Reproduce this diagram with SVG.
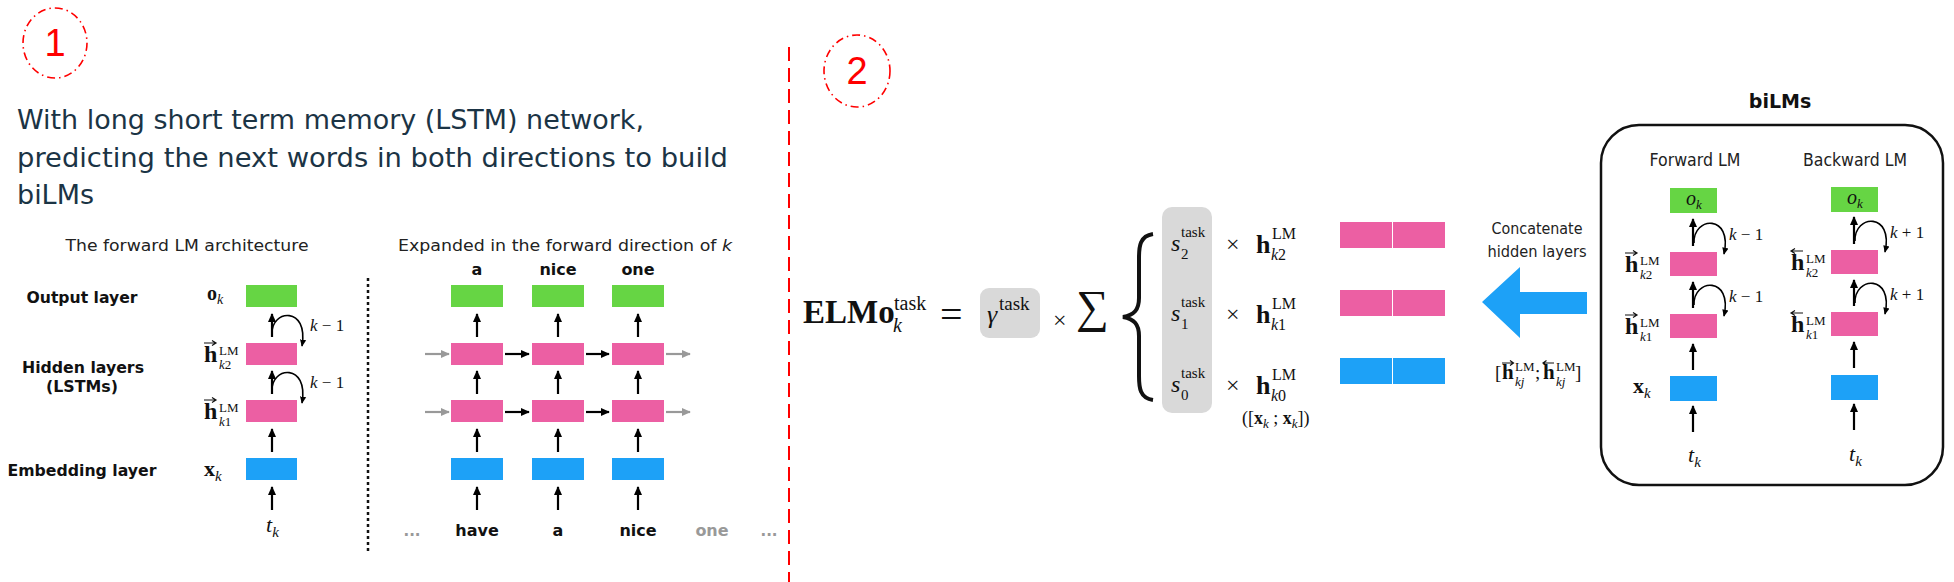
<svg xmlns="http://www.w3.org/2000/svg" width="1954" height="582" viewBox="0 0 1954 582">
<defs>
<marker id="ah" viewBox="0 0 10 10" refX="9" refY="5" markerWidth="9" markerHeight="9" markerUnits="userSpaceOnUse" orient="auto"><path d="M0,0.5 L10,5 L0,9.5 z" fill="#000"/></marker>
<marker id="ahg" viewBox="0 0 10 10" refX="9" refY="5" markerWidth="9" markerHeight="9" markerUnits="userSpaceOnUse" orient="auto"><path d="M0,0.5 L10,5 L0,9.5 z" fill="#999"/></marker>
<marker id="ahc" viewBox="0 0 10 10" refX="9" refY="5" markerWidth="7" markerHeight="7" markerUnits="userSpaceOnUse" orient="auto"><path d="M0,0.5 L10,5 L0,9.5 z" fill="#000"/></marker>
</defs>
<style>
.p{font-family:"DejaVu Sans",Verdana,sans-serif;fill:#1b3445}
.s{font-family:"DejaVu Sans",Verdana,sans-serif;fill:#222}
.b{font-family:"DejaVu Sans",Verdana,sans-serif;font-weight:bold;fill:#111}
.m{font-family:"Liberation Serif","Times New Roman",serif;fill:#111}
.i{font-style:italic}
.bd{font-weight:bold}
.g{fill:#66d544}.k{fill:#ec5fa3}.u{fill:#1da1f7}
.gb{fill:#d9d9d9}
.ar{stroke:#000;stroke-width:2.2;fill:none;marker-end:url(#ah)}
.arg{stroke:#999;stroke-width:2.2;fill:none;marker-end:url(#ahg)}
.cv{stroke:#000;stroke-width:1.6;fill:none;marker-end:url(#ahc)}
.va{stroke:#111;stroke-width:1.2;fill:none}
.red{stroke:#f00;fill:none}
</style>
<rect width="1954" height="582" fill="#fff"/>

<g id="marker1">
<ellipse class="red" cx="55" cy="43" rx="32" ry="35" stroke-width="1.6" stroke-dasharray="8 4 1.5 4"/>
<text x="55" y="56" font-family="Liberation Sans,Arial,sans-serif" font-size="38" fill="#f00" text-anchor="middle">1</text>
</g>
<g id="marker2">
<ellipse class="red" cx="857" cy="71" rx="33" ry="36" stroke-width="1.6" stroke-dasharray="8 4 1.5 4"/>
<text x="857" y="84" font-family="Liberation Sans,Arial,sans-serif" font-size="38" fill="#f00" text-anchor="middle">2</text>
</g>
<line id="divider" class="red" x1="789" y1="47" x2="789" y2="582" stroke-width="2" stroke-dasharray="14 7"/>

<g id="intro">
<text class="p" x="17" y="129" font-size="26" textLength="627" lengthAdjust="spacingAndGlyphs">With long short term memory (LSTM) network,</text>
<text class="p" x="17" y="167" font-size="26" textLength="711" lengthAdjust="spacingAndGlyphs">predicting the next words in both directions to build</text>
<text class="p" x="17" y="204" font-size="26" textLength="77" lengthAdjust="spacingAndGlyphs">biLMs</text>
</g>

<g id="fwd-title"><text class="s" x="187" y="251" font-size="16" text-anchor="middle" textLength="243" lengthAdjust="spacingAndGlyphs">The forward LM architecture</text></g>
<g id="lbl-output"><text class="b" x="82" y="303" font-size="15" text-anchor="middle" textLength="111" lengthAdjust="spacingAndGlyphs">Output layer</text></g>
<g id="lbl-hidden"><text class="b" x="83" y="373" font-size="15" text-anchor="middle" textLength="122" lengthAdjust="spacingAndGlyphs">Hidden layers</text>
<text class="b" x="82" y="392" font-size="15" text-anchor="middle" textLength="72" lengthAdjust="spacingAndGlyphs">(LSTMs)</text></g>
<g id="lbl-embed"><text class="b" x="82" y="476" font-size="15" text-anchor="middle" textLength="149" lengthAdjust="spacingAndGlyphs">Embedding layer</text></g>

<g id="f-o"><rect class="g" x="246" y="285" width="51" height="22"/>
<text class="m" x="207" y="300" font-size="20"><tspan class="bd">o</tspan><tspan class="i" font-size="14" dy="4">k</tspan></text></g>
<g id="f-h2"><rect class="k" x="246" y="343" width="51" height="22"/>
<text class="m bd" x="204" y="362" font-size="24">h</text><path class="va" d="M204,343 h12 M212,340.5 l4,2.5 l-4,2.5"/>
<text class="m" x="219" y="355" font-size="13">LM</text><text class="m" x="219" y="369" font-size="13"><tspan class="i">k</tspan>2</text></g>
<g id="f-h1"><rect class="k" x="246" y="400" width="51" height="22"/>
<text class="m bd" x="204" y="419" font-size="24">h</text><path class="va" d="M204,400 h12 M212,397.5 l4,2.5 l-4,2.5"/>
<text class="m" x="219" y="412" font-size="13">LM</text><text class="m" x="219" y="426" font-size="13"><tspan class="i">k</tspan>1</text></g>
<g id="f-x"><rect class="u" x="246" y="458" width="51" height="22"/>
<text class="m" x="204" y="476" font-size="22"><tspan class="bd">x</tspan><tspan class="i" font-size="15" dy="5">k</tspan></text></g>
<g id="f-t"><text class="m i" x="266" y="532" font-size="22">t<tspan font-size="15" dy="5">k</tspan></text></g>
<g id="f-l2"><text class="m" x="310" y="331" font-size="17"><tspan class="i">k</tspan> − 1</text></g>
<g id="f-l1"><text class="m" x="310" y="388" font-size="17"><tspan class="i">k</tspan> − 1</text></g>

<line id="dotted-sep" x1="368" y1="278" x2="368" y2="553" stroke="#111" stroke-width="2.5" stroke-dasharray="3 3"/>

<g id="exp-title"><text class="s" x="398" y="251" font-size="16" textLength="334" lengthAdjust="spacingAndGlyphs">Expanded in the forward direction of <tspan font-style="italic">k</tspan></text></g>
<g id="exp-top">
<text class="b" x="477" y="275" font-size="16" text-anchor="middle">a</text>
<text class="b" x="558" y="275" font-size="16" text-anchor="middle">nice</text>
<text class="b" x="638" y="275" font-size="16" text-anchor="middle">one</text>
</g>
<g id="col1"><rect class="g" x="451" y="285" width="52" height="22"/><rect class="k" x="451" y="343" width="52" height="22"/><rect class="k" x="451" y="400" width="52" height="22"/><rect class="u" x="451" y="458" width="52" height="22"/></g>
<g id="col2"><rect class="g" x="532" y="285" width="52" height="22"/><rect class="k" x="532" y="343" width="52" height="22"/><rect class="k" x="532" y="400" width="52" height="22"/><rect class="u" x="532" y="458" width="52" height="22"/></g>
<g id="col3"><rect class="g" x="612" y="285" width="52" height="22"/><rect class="k" x="612" y="343" width="52" height="22"/><rect class="k" x="612" y="400" width="52" height="22"/><rect class="u" x="612" y="458" width="52" height="22"/></g>
<g id="exp-bottom">
<text class="b" x="412" y="536" font-size="15" text-anchor="middle" style="fill:#999">...</text>
<text class="b" x="477" y="536" font-size="16" text-anchor="middle">have</text>
<text class="b" x="558" y="536" font-size="16" text-anchor="middle">a</text>
<text class="b" x="638" y="536" font-size="16" text-anchor="middle">nice</text>
<text class="b" x="712" y="536" font-size="16" text-anchor="middle" style="fill:#999">one</text>
<text class="b" x="769" y="536" font-size="15" text-anchor="middle" style="fill:#999">...</text>
</g>

<g id="elmo">
<text class="m bd" x="803" y="323" font-size="33">ELMo</text>
<text class="m" x="894" y="310" font-size="20">task</text>
<text class="m i" x="893" y="332" font-size="20">k</text>
<text class="m" x="940" y="328" font-size="40">=</text>
</g>
<g id="gamma">
<rect class="gb" x="980" y="288" width="60" height="50" rx="9"/>
<text class="m i" x="987" y="323" font-size="26">γ</text>
<text class="m" x="999" y="310" font-size="19">task</text>
</g>
<g id="sum">
<text class="m" x="1053" y="328" font-size="24">×</text>
<text class="m" x="1076" y="322" font-size="46">∑</text>
<path d="M1153,234 C1140,236 1139,246 1139,258 L1139,298 C1139,310 1134,315 1123,317 C1134,319 1139,324 1139,336 L1139,376 C1139,388 1140,398 1153,400" fill="none" stroke="#111" stroke-width="4"/>
</g>
<g id="weights">
<rect class="gb" x="1162" y="207" width="50" height="206" rx="10"/>
<text class="m i" x="1171" y="251" font-size="24">s</text><text class="m" x="1181" y="237" font-size="15">task</text><text class="m" x="1181" y="259" font-size="15">2</text>
<text class="m i" x="1171" y="321" font-size="24">s</text><text class="m" x="1181" y="307" font-size="15">task</text><text class="m" x="1181" y="329" font-size="15">1</text>
<text class="m i" x="1171" y="392" font-size="24">s</text><text class="m" x="1181" y="378" font-size="15">task</text><text class="m" x="1181" y="400" font-size="15">0</text>
</g>
<g id="layers">
<text class="m" x="1226" y="252" font-size="24">×</text>
<text class="m" x="1226" y="322" font-size="24">×</text>
<text class="m" x="1226" y="393" font-size="24">×</text>
<text class="m bd" x="1256" y="253" font-size="26">h</text><text class="m" x="1272" y="239" font-size="16">LM</text><text class="m" x="1271" y="260" font-size="16"><tspan class="i">k</tspan>2</text>
<text class="m bd" x="1256" y="323" font-size="26">h</text><text class="m" x="1272" y="309" font-size="16">LM</text><text class="m" x="1271" y="330" font-size="16"><tspan class="i">k</tspan>1</text>
<text class="m bd" x="1256" y="394" font-size="26">h</text><text class="m" x="1272" y="380" font-size="16">LM</text><text class="m" x="1271" y="401" font-size="16"><tspan class="i">k</tspan>0</text>
<text class="m" x="1242" y="424" font-size="18">([<tspan class="bd">x</tspan><tspan class="i" font-size="13" dy="4">k</tspan><tspan dy="-4"> ; </tspan><tspan class="bd">x</tspan><tspan class="i" font-size="13" dy="4">k</tspan><tspan dy="-4">])</tspan></text>
</g>
<g id="concat">
<rect class="k" x="1340" y="222" width="52" height="26"/><rect class="k" x="1393" y="222" width="52" height="26"/>
<rect class="k" x="1340" y="290" width="52" height="26"/><rect class="k" x="1393" y="290" width="52" height="26"/>
<rect class="u" x="1340" y="358" width="52" height="26"/><rect class="u" x="1393" y="358" width="52" height="26"/>
</g>
<g id="concat-arrow">
<polygon points="1482,302 1520,267 1520,292 1587,292 1587,314 1520,314 1520,338" fill="#1da1f7"/>
<text class="s" x="1537" y="234" font-size="16" text-anchor="middle" textLength="91" lengthAdjust="spacingAndGlyphs">Concatenate</text>
<text class="s" x="1537" y="257" font-size="16" text-anchor="middle" textLength="99" lengthAdjust="spacingAndGlyphs">hidden layers</text>
<text class="m" x="1495" y="379" font-size="19">[</text>
<text class="m bd" x="1502" y="379" font-size="21">h</text><path class="va" d="M1502,363 h11 M1510,360.5 l3.5,2.5 l-3.5,2.5"/>
<text class="m" x="1515" y="371" font-size="13">LM</text><text class="m i" x="1515" y="386" font-size="13">kj</text>
<text class="m" x="1535" y="379" font-size="19">;</text>
<text class="m bd" x="1543" y="379" font-size="21">h</text><path class="va" d="M1543,363 h11 M1546.5,360.5 l-3.5,2.5 l3.5,2.5"/>
<text class="m" x="1556" y="371" font-size="13">LM</text><text class="m i" x="1556" y="386" font-size="13">kj</text>
<text class="m" x="1575" y="379" font-size="19">]</text>
</g>

<g id="bilms">
<text class="b" x="1780" y="108" font-size="19" text-anchor="middle">biLMs</text>
<rect x="1601" y="125" width="342" height="360" rx="38" fill="none" stroke="#111" stroke-width="2.5"/>
<text class="s" x="1695" y="166" font-size="17" text-anchor="middle" textLength="91" lengthAdjust="spacingAndGlyphs">Forward LM</text>
<text class="s" x="1855" y="166" font-size="17" text-anchor="middle" textLength="104" lengthAdjust="spacingAndGlyphs">Backward LM</text>
</g>
<g id="b-f-o"><rect class="g" x="1670" y="188" width="47" height="25"/><text class="m i" x="1686" y="205" font-size="20">o<tspan font-size="13" dy="4">k</tspan></text></g>
<g id="b-f-h2"><rect class="k" x="1670" y="252" width="47" height="24"/>
<text class="m bd" x="1625" y="272" font-size="24">h</text><path class="va" d="M1625,253 h12 M1633,250.5 l4,2.5 l-4,2.5"/>
<text class="m" x="1640" y="265" font-size="13">LM</text><text class="m" x="1640" y="279" font-size="13"><tspan class="i">k</tspan>2</text></g>
<g id="b-f-h1"><rect class="k" x="1670" y="314" width="47" height="24"/>
<text class="m bd" x="1625" y="334" font-size="24">h</text><path class="va" d="M1625,315 h12 M1633,312.5 l4,2.5 l-4,2.5"/>
<text class="m" x="1640" y="327" font-size="13">LM</text><text class="m" x="1640" y="341" font-size="13"><tspan class="i">k</tspan>1</text></g>
<g id="b-f-x"><rect class="u" x="1670" y="376" width="47" height="25"/><text class="m" x="1633" y="393" font-size="22"><tspan class="bd">x</tspan><tspan class="i" font-size="15" dy="5">k</tspan></text></g>
<g id="b-f-t"><text class="m i" x="1688" y="462" font-size="22">t<tspan font-size="15" dy="5">k</tspan></text></g>
<g id="b-f-l"><text class="m" x="1729" y="240" font-size="17"><tspan class="i">k</tspan> − 1</text><text class="m" x="1729" y="302" font-size="17"><tspan class="i">k</tspan> − 1</text></g>

<g id="b-b-o"><rect class="g" x="1831" y="187" width="47" height="25"/><text class="m i" x="1847" y="204" font-size="20">o<tspan font-size="13" dy="4">k</tspan></text></g>
<g id="b-b-h2"><rect class="k" x="1831" y="250" width="47" height="24"/>
<text class="m bd" x="1791" y="270" font-size="24">h</text><path class="va" d="M1791,251 h12 M1795,248.5 l-4,2.5 l4,2.5"/>
<text class="m" x="1806" y="263" font-size="13">LM</text><text class="m" x="1806" y="277" font-size="13"><tspan class="i">k</tspan>2</text></g>
<g id="b-b-h1"><rect class="k" x="1831" y="312" width="47" height="24"/>
<text class="m bd" x="1791" y="332" font-size="24">h</text><path class="va" d="M1791,313 h12 M1795,310.5 l-4,2.5 l4,2.5"/>
<text class="m" x="1806" y="325" font-size="13">LM</text><text class="m" x="1806" y="339" font-size="13"><tspan class="i">k</tspan>1</text></g>
<g id="b-b-x"><rect class="u" x="1831" y="375" width="47" height="25"/></g>
<g id="b-b-t"><text class="m i" x="1849" y="461" font-size="22">t<tspan font-size="15" dy="5">k</tspan></text></g>
<g id="b-b-l"><text class="m" x="1890" y="238" font-size="17"><tspan class="i">k</tspan> + 1</text><text class="m" x="1890" y="300" font-size="17"><tspan class="i">k</tspan> + 1</text></g>

<g id="connectors">
<path class="ar" d="M272,337 V314"/><path class="ar" d="M272,394 V371"/><path class="ar" d="M272,452 V429"/><path class="ar" d="M272,510 V487"/>
<path class="cv" d="M272,334 C271,309 309,306 302,346"/>
<path class="cv" d="M272,391 C271,366 309,363 302,403"/>
<path class="ar" d="M477,337 V314"/><path class="ar" d="M477,394 V371"/><path class="ar" d="M477,452 V429"/><path class="ar" d="M477,510 V487"/>
<path class="ar" d="M558,337 V314"/><path class="ar" d="M558,394 V371"/><path class="ar" d="M558,452 V429"/><path class="ar" d="M558,510 V487"/>
<path class="ar" d="M638,337 V314"/><path class="ar" d="M638,394 V371"/><path class="ar" d="M638,452 V429"/><path class="ar" d="M638,510 V487"/>
<path class="ar" d="M505,354 H529"/><path class="ar" d="M586,354 H609"/>
<path class="ar" d="M505,412 H529"/><path class="ar" d="M586,412 H609"/>
<path class="arg" d="M425,354 H449"/><path class="arg" d="M666,354 H690"/>
<path class="arg" d="M425,412 H449"/><path class="arg" d="M666,412 H690"/>
<path class="ar" d="M1693,246 V219"/><path class="ar" d="M1693,308 V282"/><path class="ar" d="M1693,370 V344"/><path class="ar" d="M1693,432 V406"/>
<path class="cv" d="M1694,243 C1693,216 1733,214 1724,254"/>
<path class="cv" d="M1694,305 C1693,278 1733,276 1724,316"/>
<path class="ar" d="M1854,244 V217"/><path class="ar" d="M1854,306 V280"/><path class="ar" d="M1854,368 V342"/><path class="ar" d="M1854,430 V404"/>
<path class="cv" d="M1855,241 C1854,214 1894,212 1885,252"/>
<path class="cv" d="M1855,303 C1854,276 1894,274 1885,314"/>
</g>
</svg>
